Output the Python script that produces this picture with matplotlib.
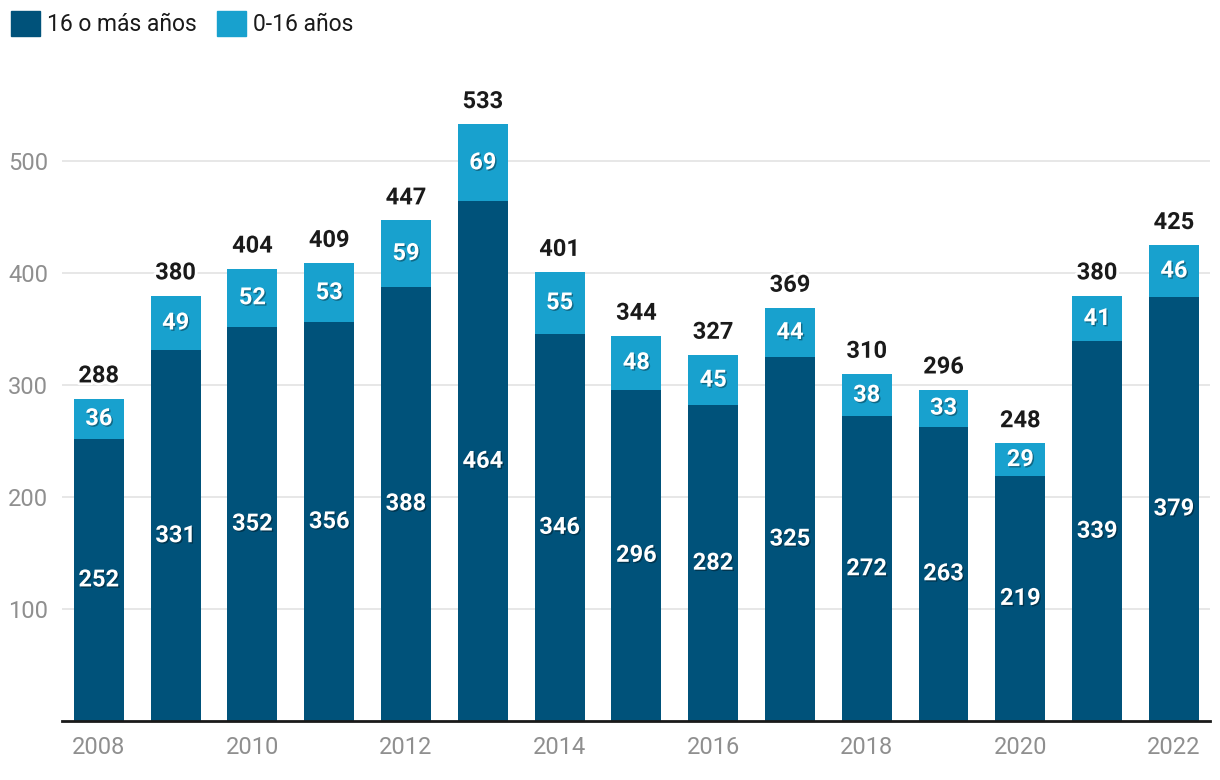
import matplotlib.pyplot as plt
import matplotlib.patheffects as pe
from matplotlib.patches import Patch
import numpy as np

plt.rcParams['font.family'] = ['Roboto', 'DejaVu Sans']

years = [2008, 2009, 2010, 2011, 2012, 2013, 2014, 2015, 2016, 2017, 2018, 2019, 2020, 2021, 2022]
adults = [252, 331, 352, 356, 388, 464, 346, 296, 282, 325, 272, 263, 219, 339, 379]
minors = [36, 49, 52, 53, 59, 69, 55, 48, 45, 44, 38, 33, 29, 41, 46]
totals = [288, 380, 404, 409, 447, 533, 401, 344, 327, 369, 310, 296, 248, 380, 425]

dark = '#00527a'
light = '#18a1ce'

fig = plt.figure(figsize=(12.2, 7.8), dpi=100)
ax = fig.add_axes([0.0508, 0.0756, 0.941, 0.847])

x = np.arange(len(years))
w = 0.65
ax.bar(x, adults, width=w, color=dark, zorder=2)
ax.bar(x, minors, width=w, bottom=adults, color=light, zorder=2)

inner_fx = [pe.withSimplePatchShadow(offset=(1, -1), shadow_rgbFace='black', alpha=0.35)]
top_fx = [pe.withStroke(linewidth=4, foreground='white')]
for i in range(len(years)):
    ax.text(x[i], adults[i] / 2, str(adults[i]), ha='center', va='center',
            color='white', fontsize=17, fontweight='bold', path_effects=inner_fx, zorder=3)
    ax.text(x[i], adults[i] + minors[i] / 2, str(minors[i]), ha='center', va='center',
            color='white', fontsize=17, fontweight='bold', path_effects=inner_fx, zorder=3)
    ax.annotate(str(totals[i]), (x[i], totals[i]), xytext=(0, 8), textcoords='offset points',
                ha='center', va='bottom', color='#1a1a1a', fontsize=17, fontweight='bold',
                path_effects=top_fx, zorder=4)

ax.set_xlim(-0.48, len(years) - 0.53)
ax.set_ylim(0, 590)
ax.set_yticks([100, 200, 300, 400, 500])
ax.set_xticks(x[::2])
ax.set_xticklabels([str(y) for y in years[::2]])
ax.tick_params(axis='both', length=0, labelsize=17, labelcolor='#8f8f8f')
ax.tick_params(axis='x', pad=11)
ax.tick_params(axis='y', pad=10)
ax.grid(axis='y', color='#e3e3e3', linewidth=1.2, zorder=0)
for s in ['top', 'right', 'left']:
    ax.spines[s].set_visible(False)
ax.spines['bottom'].set_color('#1a1a1a')
ax.spines['bottom'].set_linewidth(2)
ax.spines['bottom'].set_zorder(5)

handles = [Patch(color=dark, label='16 o más años'), Patch(color=light, label='0-16 años')]
fig.legend(handles=handles, loc='upper left', bbox_to_anchor=(0.0, 1.0), ncol=2, frameon=False,
           fontsize=16.5, handlelength=1.25, handleheight=1.25, handletextpad=0.3, columnspacing=0.9,
           borderaxespad=0.1, labelcolor='#1a1a1a')

fig.savefig('out.png', dpi=100)
